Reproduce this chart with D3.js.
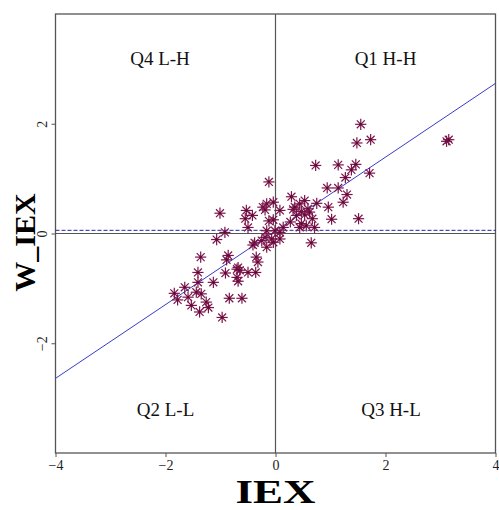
<!DOCTYPE html>
<html>
<head>
<meta charset="utf-8">
<script src="https://cdn.jsdelivr.net/npm/d3@7"></script>
<style>
  body { margin: 0; background: #fff; }
  svg { display: block; font-family: "Liberation Serif", "DejaVu Serif", serif; }
</style>
</head>
<body>
<div id="chart"></div>
<script>
// Moran scatter data: standardized IEX (x) vs its spatial lag W_IEX (y)
const iex = [1.55, 1.48, 1.73, 3.11, 3.15, 0.73, 1.14, 1.46, 1.38, 1.27,
  1.71, -0.12, 0.94, 1.14, 1.30, 1.23, 0.96, 1.02, 1.51, 0.29,
  0.75, 0.53, 0.44, 0.32, 0.59, 0.62, 0.47, 0.53, 0.38, 0.67,
  0.56, 0.47, 0.44, 0.71, 0.27, 0.14, 0.08, -0.04, -0.16, -0.23,
  -0.19, -0.53, -0.55, -0.42, -0.50, -0.12, -0.04, -0.16, -0.01, 0.08,
  -0.19, -0.25, -0.07, -0.04, 0.08, -0.38, -0.41, -0.16, 0.65, -1.01,
  -0.92, -1.07, -0.35, -0.32, -1.36, -0.86, -0.89, -0.68, -0.70, -0.65,
  -0.91, -0.50, -0.36, -1.41, -1.41, -1.13, -0.70, -0.68, -1.65, -1.84,
  -1.78, -1.59, -1.53, -1.44, -1.35, -1.26, -1.22, -1.38, -0.97, -0.84,
  -0.61, 0.35];
const wIex = [1.99, 1.65, 1.71, 1.68, 1.71, 1.24, 1.25, 1.26, 1.16, 1.02,
  1.10, 0.94, 0.83, 0.83, 0.71, 0.57, 0.48, 0.26, 0.27, 0.67,
  0.55, 0.60, 0.54, 0.44, 0.45, 0.39, 0.40, 0.34, 0.33, 0.27,
  0.14, 0.18, 0.11, 0.11, 0.21, 0.11, 0.42, 0.57, 0.54, 0.48,
  0.43, 0.42, 0.27, 0.33, 0.11, 0.23, 0.25, 0.05, 0.05, 0.02,
  -0.07, -0.13, -0.10, -0.16, -0.10, -0.17, -0.21, -0.25, -0.17, 0.37,
  0.02, -0.11, -0.43, -0.52, -0.43, -0.40, -0.48, -0.62, -0.65, -0.67,
  -0.72, -0.71, -0.71, -0.71, -0.89, -0.89, -0.80, -0.87, -0.98, -1.09,
  -1.21, -1.16, -1.31, -1.07, -1.10, -1.25, -1.35, -1.43, -1.53, -1.18,
  -1.18, 0.48];

// fitted line and mean of W_IEX
const slope = 0.672;
const intercept = 0.048;
const meanW = 0.058;

const xTicks = [-4, -2, 0, 2, 4];
const yTicks = [-2, 0, 2];
const quadLabels = ['Q4 L-H', 'Q1 H-H', 'Q2 L-L', 'Q3 H-L'];
const quadX = [-2.1, 2, -2, 2.1];
const quadY = [3.2, 3.2, -3.2, -3.2];

const data = iex.map((d, i) => ({ x: d, y: wIex[i] }));
const quadrants = quadLabels.map((d, i) => ({ label: d, x: quadX[i], y: quadY[i] }));

// chart parameters
const svgWidth = 499;
const svgHeight = 510;
const margin = { top: 14, right: 3.5, bottom: 57, left: 55.5 };
const width = svgWidth - margin.left - margin.right;
const height = svgHeight - margin.top - margin.bottom;

const svg = d3.select('#chart')
  .append('svg')
  .attr('width', svgWidth)
  .attr('height', svgHeight);

const chartGroup = svg.append('g')
  .attr('transform', `translate(${margin.left}, ${margin.top})`);

const xScale = d3.scaleLinear().domain([-4, 4]).range([0, width]);
const yScale = d3.scaleLinear().domain([-4, 4]).range([height, 0]);

const axisColor = '#555';

// frame
chartGroup.append('rect')
  .attr('width', width)
  .attr('height', height)
  .attr('fill', 'none')
  .attr('stroke', axisColor)
  .attr('stroke-width', 1.3);

// zero lines
chartGroup.append('line')
  .attr('x1', xScale(0)).attr('x2', xScale(0))
  .attr('y1', 0).attr('y2', height)
  .attr('stroke', axisColor).attr('stroke-width', 1.2);
chartGroup.append('line')
  .attr('x1', 0).attr('x2', width)
  .attr('y1', yScale(0)).attr('y2', yScale(0))
  .attr('stroke', axisColor).attr('stroke-width', 1.2);

// mean line (dashed)
chartGroup.append('line')
  .attr('x1', 0).attr('x2', width)
  .attr('y1', yScale(meanW)).attr('y2', yScale(meanW))
  .attr('stroke', '#2222aa')
  .attr('stroke-width', 1)
  .attr('stroke-dasharray', '4,2');

// axes
const bottomAxis = d3.axisBottom(xScale).tickValues(xTicks).tickSize(4).tickPadding(3);
const leftAxis = d3.axisLeft(yScale).tickValues(yTicks).tickSize(4).tickPadding(3);

const xAxis = chartGroup.append('g')
  .attr('transform', `translate(0, ${height})`)
  .call(bottomAxis);
const yAxis = chartGroup.append('g')
  .call(leftAxis);

[xAxis, yAxis].forEach(ax => {
  ax.select('.domain').remove();
  ax.selectAll('line').attr('stroke', axisColor);
  ax.selectAll('text')
    .attr('fill', '#222')
    .style('font-family', '"Liberation Serif", serif')
    .style('font-size', '14px');
});

// rotate y tick labels like R
yAxis.selectAll('.tick text')
  .attr('x', 0)
  .attr('y', 0)
  .attr('dy', 0)
  .attr('text-anchor', 'middle')
  .attr('transform', 'translate(-9, 0) rotate(-90)');

// regression line
chartGroup.append('line')
  .attr('x1', xScale(-4)).attr('x2', xScale(4))
  .attr('y1', yScale(intercept + slope * -4))
  .attr('y2', yScale(intercept + slope * 4))
  .attr('stroke', '#3a3ad0')
  .attr('stroke-width', 1);

// asterisk markers
const r = 5.6;
const spokes = [0, 45, 90, 135];
const pointGroup = chartGroup.selectAll('.pt')
  .data(data)
  .enter()
  .append('g')
  .classed('pt', true)
  .attr('transform', d => `translate(${xScale(d.x)}, ${yScale(d.y)})`);

spokes.forEach(a => {
  const rad = a * Math.PI / 180;
  pointGroup.append('line')
    .attr('x1', -r * Math.cos(rad)).attr('y1', -r * Math.sin(rad))
    .attr('x2', r * Math.cos(rad)).attr('y2', r * Math.sin(rad))
    .attr('stroke', '#7a1449')
    .attr('stroke-width', 1.2);
});
pointGroup.append('circle')
  .attr('r', 1.3)
  .attr('fill', '#64083a');

// quadrant labels
chartGroup.selectAll('.quad')
  .data(quadrants)
  .enter()
  .append('text')
  .classed('quad', true)
  .attr('x', d => xScale(d.x))
  .attr('y', d => yScale(d.y))
  .attr('dy', '0.35em')
  .attr('text-anchor', 'middle')
  .style('font-size', '19px')
  .attr('fill', '#111')
  .text(d => d.label);

// axis titles
svg.append('text')
  .attr('x', margin.left + xScale(0))
  .attr('y', 502.5)
  .attr('text-anchor', 'middle')
  .attr('textLength', 80)
  .attr('lengthAdjust', 'spacingAndGlyphs')
  .style('font-size', '34px')
  .style('font-weight', 'bold')
  .text('IEX');

svg.append('text')
  .attr('transform', `translate(35, ${margin.top + yScale(0) + 9}) rotate(-90)`)
  .attr('text-anchor', 'middle')
  .style('font-size', '30px')
  .style('font-weight', 'bold')
  .text('W_IEX');
</script>
</body>
</html>
